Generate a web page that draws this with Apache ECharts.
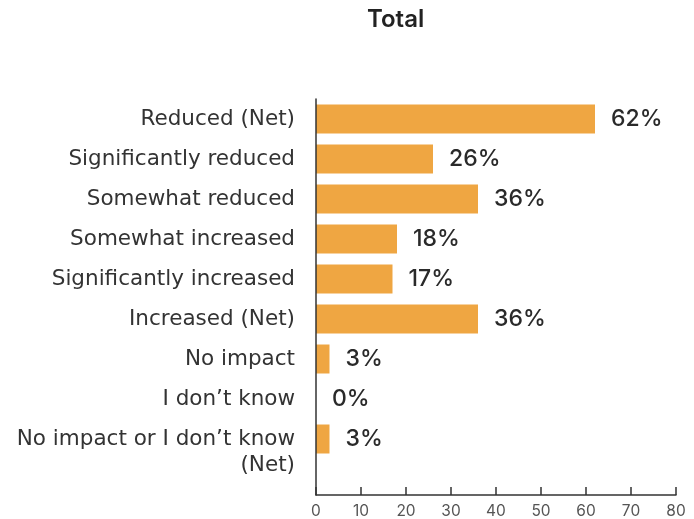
<!DOCTYPE html>
<html>
<head>
<meta charset="utf-8">
<script src="https://cdn.jsdelivr.net/npm/echarts@6/dist/echarts.min.js"></script>
<style>html,body{margin:0;padding:0;background:#fff}#c{width:694px;height:519px}</style>
</head>
<body>
<div id="c"></div>
<script>
var categories = ["Reduced (Net)", "Significantly reduced", "Somewhat reduced", "Somewhat increased", "Significantly increased", "Increased (Net)", "No impact", "I don’t know", "No impact or I don’t know (Net)"];
var values = [62, 26, 36, 18, 17, 36, 3, 0, 3];
var xTicks = [0, 80, 10];
var titleText = "Total";

var FONT = "Inter, 'Noto Sans', sans-serif";
var LFONT = "'DejaVu Sans', sans-serif";
var chart = echarts.init(document.getElementById('c'));
chart.setOption({
  animation: false,
  title: {
    text: titleText, left: 362, top: 3,
    textStyle: {fontFamily: FONT, fontSize: 24, fontWeight: 600, color: '#222'}
  },
  grid: [
    {left: 316, right: 18, top: 99, height: 360},
    {left: 316, right: 18, top: 99, height: 397}
  ],
  xAxis: [
    {gridIndex: 0, type: 'value', min: xTicks[0], max: xTicks[1], show: false},
    {gridIndex: 1, type: 'value', min: xTicks[0], max: xTicks[1], interval: xTicks[2],
     axisLine: {show: true, lineStyle: {color: '#333', width: 1.5}},
     axisTick: {show: true, inside: true, length: 8, lineStyle: {color: '#333', width: 1.5}},
     axisLabel: {fontFamily: FONT, fontSize: 15.5, color: '#555', margin: 8},
     splitLine: {show: false}}
  ],
  yAxis: [
    {gridIndex: 0, type: 'category', inverse: true, data: categories,
     axisLine: {show: false}, axisTick: {show: false},
     axisLabel: {fontFamily: LFONT, fontSize: 21.5, color: '#333', margin: 21, lineHeight: 26,
       padding: [3, 0, 0, 0],
       interval: 0, hideOverlap: false,
       formatter: function (v) {
         if (v === "No impact or I don’t know (Net)") return "\nNo impact or I don’t know\n(Net)";
         return v;
       }}},
    {gridIndex: 1, type: 'value', min: 0, max: 1, z: 10,
     axisLine: {show: true, lineStyle: {color: '#333', width: 1.5}},
     axisTick: {show: false}, axisLabel: {show: false}, splitLine: {show: false}}
  ],
  series: [{
    type: 'bar', xAxisIndex: 0, yAxisIndex: 0, data: values, barWidth: 29,
    itemStyle: {color: '#EFA642'},
    label: {show: true, position: 'right', distance: 16, formatter: '{c}%',
      fontFamily: FONT, fontSize: 23, fontWeight: 500, color: '#2a2a2a'}
  }]
});
</script>
</body>
</html>
